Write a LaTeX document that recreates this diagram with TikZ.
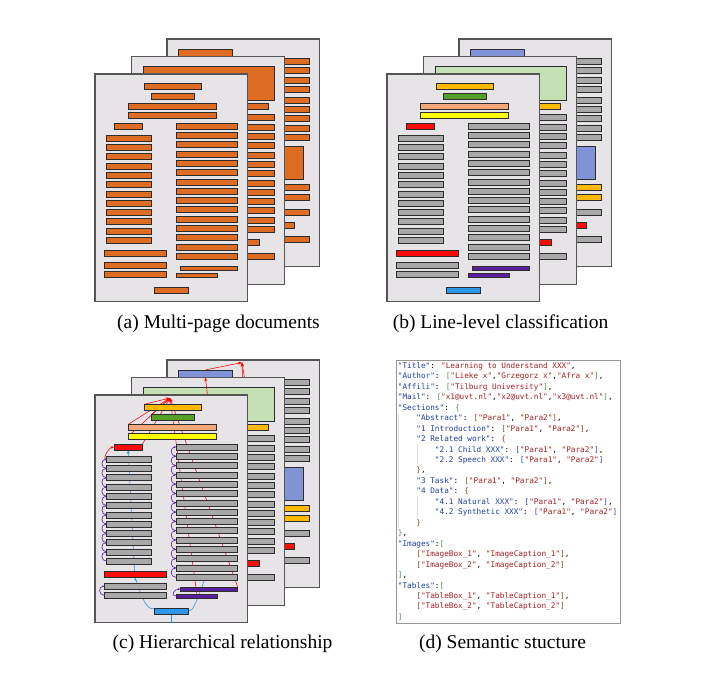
\documentclass[tikz,border=0pt]{standalone}
\usepackage{fontspec}
\setmainfont{Liberation Serif}
\newfontfamily\codefont{DejaVu Sans Mono}
\usetikzlibrary{arrows.meta}

\definecolor{pagefill}{RGB}{230,228,231}
\definecolor{pageline}{RGB}{85,85,85}
\definecolor{barline}{RGB}{45,45,45}
\definecolor{aorange}{RGB}{222,108,34}
\definecolor{amber}{RGB}{255,186,0}
\definecolor{leafgreen}{RGB}{84,160,40}
\definecolor{salmon}{RGB}{244,167,120}
\definecolor{lemon}{RGB}{255,255,0}
\definecolor{headred}{RGB}{255,10,10}
\definecolor{textgray}{RGB}{168,168,168}
\definecolor{capviolet}{RGB}{90,30,160}
\definecolor{pageblue}{RGB}{45,152,235}
\definecolor{figgreen}{RGB}{197,224,180}
\definecolor{tabblue}{RGB}{128,147,214}
\definecolor{codeframe}{RGB}{150,150,150}
\definecolor{jkey}{RGB}{30,62,160}
\definecolor{jstr}{RGB}{165,30,30}
\definecolor{jbrA}{RGB}{80,150,80}
\definecolor{jbrB}{RGB}{150,70,30}
\definecolor{jbrC}{RGB}{50,70,200}

\pgfdeclarelayer{backsheet}
\pgfdeclarelayer{midsheet}
\pgfdeclarelayer{frontsheet}
\pgfdeclarelayer{links}
\pgfsetlayers{backsheet,midsheet,frontsheet,links,main}

\tikzset{
  sheet/.style={draw=pageline, fill=pagefill, line width=1.1pt},
  lbar/.style={draw=barline, line width=0.7pt, inner sep=0pt, outer sep=0pt},
  hier/.style={draw=red, line width=0.55pt, -{Stealth[length=4pt,width=3pt]}},
  kin/.style={draw=capviolet, line width=0.6pt, -{Stealth[length=2pt,width=2pt]}},
  seq/.style={draw=pageblue, line width=0.6pt, -{Stealth[length=3.5pt,width=3pt]}},
  guide/.style={draw=gray!25, line width=0.6pt},
  caption/.style={font=\fontsize{19.5}{22}\selectfont, anchor=base},
}

% one text line of a page: name, x from, x to, top, height, colour
\newcommand{\lbox}[6]{\node[lbar, fill=#6, minimum width={#3-#2}, minimum height={#5}] (#1) at ({(#2+#3)/2},{#4+#5/2}) {};}
\newcommand{\sheet}{\draw[sheet] (0,0) rectangle (152.7,227.7);}

\newcommand{\frontbars}[1]{%
  \lbox{#1t1}{49.3}{106}{9.3}{6}{ctitle}
  \lbox{#1t2}{56.7}{99}{19.3}{6}{cauthor}
  \lbox{#1t3}{33.3}{121.7}{29.3}{6}{caffil}
  \lbox{#1t4}{33.3}{121.7}{38.3}{6}{cmail}
  \lbox{#1h1}{19}{47.3}{49.3}{6}{chead}
  \foreach \i in {1,...,12} {\lbox{#1l\i}{11.7}{56.7}{61.3+9.27*(\i-1)}{6}{ctext}}
  \foreach \i in {1,...,15} {\lbox{#1r\i}{81}{142.7}{49+9.31*(\i-1)}{6}{ctext}}
  \lbox{#1h2}{9.3}{71}{176.7}{6}{chead}
  \lbox{#1g1}{9.3}{71}{188.3}{6}{ctext}
  \lbox{#1g2}{9.3}{71}{197.3}{6}{ctext}
  \lbox{#1p1}{85}{142.7}{192}{4}{ccap}
  \lbox{#1p2}{81}{122.7}{199}{4}{ccap}
  \lbox{#1n}{59.3}{93.3}{213.7}{6}{cpage}
}
\newcommand{\midbars}[1]{%
  \lbox{#1fig}{11.7}{142.7}{10}{34.3}{cfig}
  \lbox{#1m0}{81}{137.3}{47.3}{6}{ctitle}
  \foreach \i in {1,...,13} {\lbox{#1m\i}{81}{142.7}{58.3+9.3*(\i-1)}{6}{ctext}}
  \lbox{#1mh}{81}{127.7}{182.7}{6}{chead}
  \lbox{#1ml}{81}{142.7}{197.3}{6}{ctext}
}
\newcommand{\backbars}[1]{%
  \lbox{#1top}{11.7}{65}{10}{7.3}{ctab}
  \foreach \y [count=\k] in {19,28.3,38,47.3,58,67.3,76.7,86.3,95.3} {\lbox{#1b\k}{81}{142.3}{\y}{6}{ctext}}
  \lbox{#1tab}{95}{136.7}{107.3}{32.7}{ctab}
  \lbox{#1b10}{81}{142.3}{145.7}{6}{ctitle}
  \lbox{#1b11}{81}{142.3}{155}{6}{ctitle}
  \lbox{#1b12}{81}{142.3}{170}{6}{ctext}
  \lbox{#1bh}{81}{127.3}{183}{6}{chead}
  \lbox{#1b13}{81}{142.3}{197.3}{6}{ctext}
}

\newcommand{\jk}[1]{\textcolor{jkey}{"#1"}}
\newcommand{\jv}[1]{\textcolor{jstr}{"#1"}}
\newcommand{\jA}[1]{\textcolor{jbrA}{#1}}
\newcommand{\jB}[1]{\textcolor{jbrB}{#1}}
\newcommand{\jC}[1]{\textcolor{jbrC}{#1}}
\newcommand{\ind}{\phantom{xxxx}}

\begin{document}
\begin{tikzpicture}[x=1pt,y=-1pt]
\useasboundingbox (0,0) rectangle (720,682);

% (a) all lines in one colour
\colorlet{ctitle}{aorange}\colorlet{cauthor}{aorange}\colorlet{caffil}{aorange}
\colorlet{cmail}{aorange}\colorlet{chead}{aorange}\colorlet{ctext}{aorange}
\colorlet{ccap}{aorange}\colorlet{cpage}{aorange}\colorlet{cfig}{aorange}\colorlet{ctab}{aorange}

\begin{scope}[shift={(167,39)}]
\sheet
\backbars{ab}
\end{scope}
\begin{scope}[shift={(131.5,56.5)}]
\sheet
\midbars{am}
\end{scope}
\begin{scope}[shift={(95,74)}]
\sheet
\frontbars{af}
\end{scope}

% (b) and (c) one colour per class
\colorlet{ctitle}{amber}\colorlet{cauthor}{leafgreen}\colorlet{caffil}{salmon}
\colorlet{cmail}{lemon}\colorlet{chead}{headred}\colorlet{ctext}{textgray}
\colorlet{ccap}{capviolet}\colorlet{cpage}{pageblue}\colorlet{cfig}{figgreen}\colorlet{ctab}{tabblue}

\begin{scope}[shift={(459,39)}]
\sheet
\backbars{bb}
\end{scope}
\begin{scope}[shift={(423.5,56.5)}]
\sheet
\midbars{bm}
\end{scope}
\begin{scope}[shift={(387,74)}]
\sheet
\frontbars{bf}
\end{scope}

% (c)
\begin{scope}[shift={(167,360)}]
\begin{pgfonlayer}{backsheet}
\sheet
\backbars{cb}
\coordinate (cbhub) at (75,2.5);
\draw[hier] (cbtop.north) -- (cbhub);
\draw[hier] (cbb13.north west) -- (cbhub);
\draw[hier] (cbbh.north) -- (cbhub);
\end{pgfonlayer}
\end{scope}

\begin{scope}[shift={(131.5,377.5)}]
\begin{pgfonlayer}{midsheet}
\sheet
\midbars{cm}
\draw[hier] (cmfig.center) -- (cbtop.south);
\end{pgfonlayer}
\end{scope}

\begin{scope}[shift={(95,395)}]
\begin{pgfonlayer}{frontsheet}
\sheet
\end{pgfonlayer}
\frontbars{c}
\coordinate (chub) at (75,3);
\coordinate (cbend) at (40,186);
\coordinate (cfoot) at (76.3,227.7);

\begin{pgfonlayer}{links}
\draw[hier] (ct1.north west) -- (chub);
\draw[hier] (ct2.north west) -- (chub);
\draw[hier] (ct3.north west) -- (chub);
\draw[hier] (ct4.west) -- (chub);
\draw[hier] (ch1.north east) -- (chub);
\draw[hier] (cp2.north) -- (chub);
\draw[hier] (cp1.north east) -- (chub);
\draw[seq] (cn.north west) to[out=-165,in=90] (cbend) -- (ch1.south);
\draw[seq] (cn.north east) to[out=-70,in=90] (cr15.south);
\draw[seq,-] (cn.south) -- (cfoot);
\end{pgfonlayer}

\draw[hier,-{Stealth[length=3pt,width=2.5pt]}] (cl1.west) to[out=-165,in=180] (ch1.west);
\foreach \i in {1,...,11} {\pgfmathtruncatemacro\j{\i+1}
  \draw[kin] (cl\j.west) to[out=180,in=180,looseness=1.7] (cl\i.west);}
\foreach \i in {1,...,14} {\pgfmathtruncatemacro\j{\i+1}
  \draw[kin] (cr\j.west) to[out=180,in=180,looseness=1.7] (cr\i.west);}
\draw[kin] (cg2.west) to[out=180,in=180,looseness=1.7] (cg1.west);
\draw[kin] (cp2.west) to[out=180,in=180,looseness=1.9] (cp1.west);
\end{scope}

% (d)
\node[draw=codeframe, line width=1.1pt, minimum width=224, minimum height=262.7, inner sep=0pt, anchor=north west] (jsonbox) at (396,360) {};
\draw[guide] (398.5,413) -- (398.5,528);
\draw[guide] (417,444) -- (417,465);
\draw[guide] (417,496) -- (417,517);
\node[anchor=north west, inner sep=0pt, align=left, font=\codefont\fontsize{7.7}{10.46}\selectfont] (jsontext) at (397.7,362.3) {%
\jk{Title}: \jv{Learning to Understand XXX},\\
\jk{Author}: \jA{[}\jv{Lieke x},\jv{Grzegorz x},\jv{Afra x}\jA{]},\\
\jk{Affili}: \jA{[}\jv{Tilburg University}\jA{]},\\
\jk{Mail}: \jA{[}\jv{x1@uvt.nl},\jv{x2@uvt.nl},\jv{x3@uvt.nl}\jA{]},\\
\jk{Sections}: \jA{\{}\\
\ind\jk{Abstract}: \jB{[}\jv{Para1}, \jv{Para2}\jB{]},\\
\ind\jk{1 Introduction}: \jB{[}\jv{Para1}, \jv{Para2}\jB{]},\\
\ind\jk{2 Related work}: \jB{\{}\\
\ind\ind\jk{2.1 Child XXX}: \jC{[}\jv{Para1}, \jv{Para2}\jC{]},\\
\ind\ind\jk{2.2 Speech XXX}: \jC{[}\jv{Para1}, \jv{Para2}\jC{]}\\
\ind\jB{\}},\\
\ind\jk{3 Task}: \jB{[}\jv{Para1}, \jv{Para2}\jB{]},\\
\ind\jk{4 Data}: \jB{\{}\\
\ind\ind\jk{4.1 Natural XXX}: \jC{[}\jv{Para1}, \jv{Para2}\jC{]},\\
\ind\ind\jk{4.2 Synthetic XXX}: \jC{[}\jv{Para1}, \jv{Para2}\jC{]}\\
\ind\jB{\}}\\
\jA{\}},\\
\jk{Images}:\jA{[}\\
\ind\jB{[}\jv{ImageBox\_1}, \jv{ImageCaption\_1}\jB{]},\\
\ind\jB{[}\jv{ImageBox\_2}, \jv{ImageCaption\_2}\jB{]}\\
\jA{]},\\
\jk{Tables}:\jA{[}\\
\ind\jB{[}\jv{TableBox\_1}, \jv{TableCaption\_1}\jB{]},\\
\ind\jB{[}\jv{TableBox\_2}, \jv{TableCaption\_2}\jB{]}\\
\jA{]}};

% captions
\node[caption] (capa) at (218.5,328) {(a) Multi-page documents};
\node[caption] (capb) at (500.5,328) {(b) Line-level classification};
\node[caption] (capc) at (222.5,648) {(c) Hierarchical relationship};
\node[caption] (capd) at (502.5,648) {(d) Semantic stucture};
\end{tikzpicture}
\end{document}
